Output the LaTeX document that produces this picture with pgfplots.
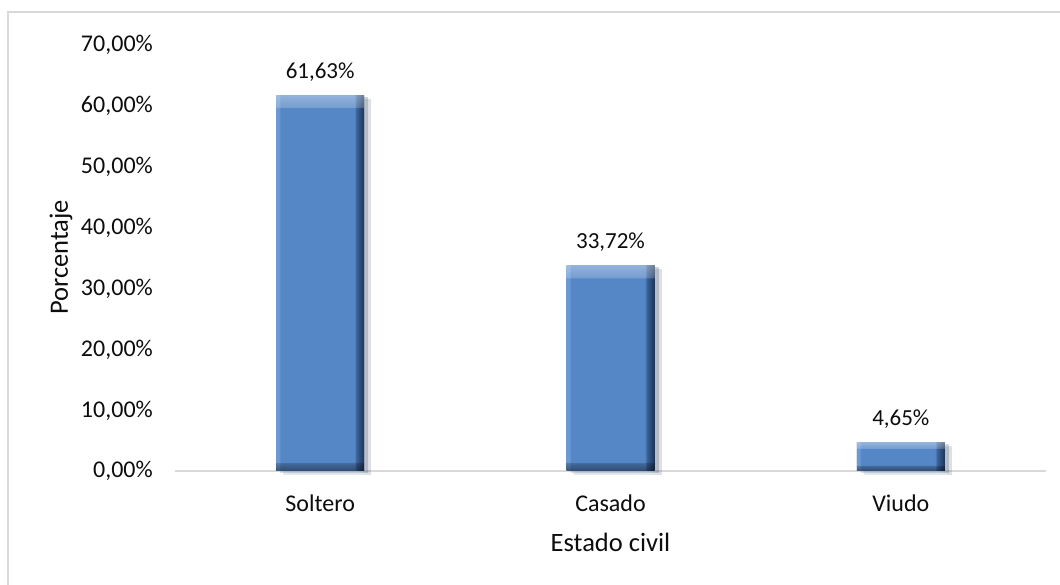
\documentclass[border=0pt]{standalone}
\usepackage{pgfplots}
\pgfplotsset{compat=1.18}
\usepackage{fontspec}
\setmainfont{Carlito}
\usetikzlibrary{shadows}
\definecolor{bL}{HTML}{6A98D2}
\definecolor{bM}{HTML}{5486C5}
\definecolor{bR}{HTML}{3A6399}
\definecolor{bRR}{HTML}{1B3356}
\definecolor{frame}{HTML}{D9D9D9}
\definecolor{txt}{HTML}{0D0D0D}
\definecolor{gN}{gray}{0.5}
\definecolor{gT1}{gray}{0.60}
\definecolor{gT2}{gray}{0.68}
\definecolor{gB1}{gray}{0.40}
\definecolor{gB2}{gray}{0.28}
\pgfdeclarehorizontalshading{barbevel}{100bp}{color(0bp)=(bL); color(25bp)=(bL); color(26.5bp)=(bL); color(27.5bp)=(bM); color(69.5bp)=(bM); color(70.5bp)=(bR); color(75bp)=(bRR); color(100bp)=(bRR)}
\pgfdeclareverticalshading{vbA}{100bp}{color(0bp)=(gB2); color(25bp)=(gB2); color(26.06bp)=(gB1); color(26.16bp)=(gN); color(73.3bp)=(gN); color(73.4bp)=(gT1); color(75bp)=(gT2); color(100bp)=(gT2)}
\pgfdeclareverticalshading{vbB}{100bp}{color(0bp)=(gB2); color(25bp)=(gB2); color(26.94bp)=(gB1); color(27.1bp)=(gN); color(71.9bp)=(gN); color(72.08bp)=(gT1); color(75bp)=(gT2); color(100bp)=(gT2)}
\pgfdeclareverticalshading{vbC}{100bp}{color(0bp)=(gB2); color(25bp)=(gB2); color(34.5bp)=(gB1); color(35.5bp)=(gN); color(64.5bp)=(gN); color(65.5bp)=(gT1); color(75bp)=(gT2); color(100bp)=(gT2)}
\pgfplotsset{barsty/.style={ybar, bar width=88bp, bar shift=0pt, draw=none, shading=barbevel,
    drop shadow={shadow xshift=7bp, shadow yshift=-4bp, opacity=0.10},
    drop shadow={shadow xshift=4bp, shadow yshift=-2bp, opacity=0.15},
    postaction={shading=#1, blend mode=hard light}}}
\begin{document}
\begin{tikzpicture}
\useasboundingbox (0,0) rectangle (1060bp,585bp);
\draw[frame, line width=1.5bp] (8bp,0) -- (8bp,573bp) -- (1060bp,573bp);
\begin{axis}[
  at={(175bp,114bp)}, anchor=south west,
  scale only axis, width=871bp, height=427bp,
  xmin=-0.5, xmax=2.5, ymin=0, ymax=70,
  xtick={0,1,2}, xticklabels={Soltero,Casado,Viudo},
  ytick={0,10,...,70},
  axis lines*=left,
  x axis line style={draw=frame, line width=1.2bp},
  y axis line style={draw=none},
  major tick length=0pt,
  /pgf/number format/assume math mode=true,
  yticklabel={\pgfmathprintnumber[fixed,fixed zerofill,precision=2,use comma]{\tick}\%},
  y tick label style={anchor=base east, inner sep=0pt, xshift=-22bp, yshift=-7bp, font=\fontsize{24bp}{28bp}\selectfont, text=txt},
  x tick label style={anchor=base, inner sep=0pt, yshift=-40bp, font=\fontsize{24bp}{28bp}\selectfont, text=txt},
  every axis x label/.style={at={(axis description cs:0.5,0)}, anchor=center, yshift=-71bp, font=\fontsize{26.5bp}{30bp}\selectfont, text=txt},
  every axis y label/.style={at={(axis description cs:0,0.5)}, rotate=90, anchor=center, yshift=114bp, font=\fontsize{26.5bp}{30bp}\selectfont, text=txt},
  xlabel={Estado civil}, ylabel={Porcentaje},
  ybar,
  nodes near coords={\pgfmathprintnumber[fixed,fixed zerofill,precision=2,use comma]{\pgfplotspointmeta}\%},
  every node near coord/.append style={anchor=base, inner sep=0pt, yshift=17bp, font=\fontsize{23bp}{27bp}\selectfont, text=txt},
  clip=false,
]
\addplot[barsty=vbA] coordinates {(0,61.63)};
\addplot[barsty=vbB] coordinates {(1,33.72)};
\addplot[barsty=vbC] coordinates {(2,4.65)};
\end{axis}
\end{tikzpicture}
\end{document}
